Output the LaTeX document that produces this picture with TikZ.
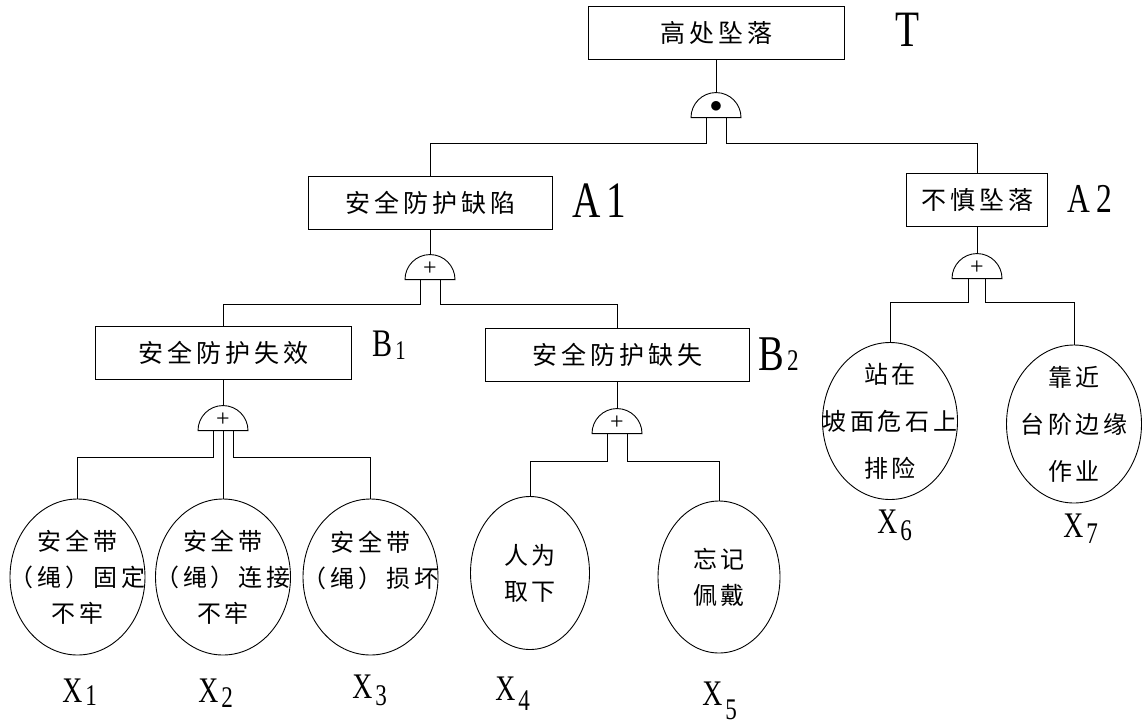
\documentclass[tikz,border=0pt]{standalone}
\usepackage{fontspec}
\setmainfont{Liberation Serif}
\newfontfamily\cjk[LetterSpace=16]{Noto Sans CJK SC}
\newfontfamily\labfont[FakeStretch=0.77]{Liberation Serif}
\usetikzlibrary{shapes.geometric}

\newcommand\tagsub[4]{{\fontsize{#4}{#4}\selectfont #1}\kern3pt\raisebox{-#3pt}{\fontsize{30}{30}\selectfont #2}}

\tikzset{
  event/.style={rectangle, draw, minimum height=53pt, inner sep=0pt,
                font=\cjk\fontsize{25}{30}\selectfont},
  basic/.style={ellipse, draw, minimum width=135pt, minimum height=156pt,
                inner sep=0pt},
  basictext/.style={align=center, inner sep=0pt,
                font=\cjk\fontsize{24}{36}\selectfont},
  widetext/.style={basictext, font=\cjk\fontsize{24}{47}\selectfont},
  orgate/.style={semicircle, draw, inner sep=0pt, minimum width=50pt,
                anchor=chord center, font=\fontsize{24}{24}\selectfont},
  tag/.style={anchor=base west, inner sep=0pt, font=\labfont}
}

\begin{document}
\begin{tikzpicture}[x=1pt, y=-1pt, line width=0.9pt]
\useasboundingbox (0,0) rectangle (1142,726);

\node[event, minimum width=256pt] (T)  at (716,32.5) {高处坠落};
\node[event, minimum width=244pt] (A1) at (430,203)  {安全防护缺陷};
\node[event, minimum width=141pt] (A2) at (977,200)  {不慎坠落};
\node[event, minimum width=256pt] (B1) at (223,352.5) {安全防护失效};
\node[event, minimum width=264pt] (B2) at (617,355)  {安全防护缺失};

\node[orgate] (gT)  at (716,118) {\fontsize{30}{30}\selectfont$\bullet$};
\node[orgate] (gA1) at (430,280) {+};
\node[orgate] (gA2) at (977,279) {+};
\node[orgate] (gB1) at (223,431) {+};
\node[orgate] (gB2) at (617,434) {+};

\node[basic, label={[basictext]center:{安全带\\（绳）固定\\不牢}}] (X1) at (77.5,577) {};
\node[basic, label={[basictext]center:{安全带\\（绳）连接\\不牢}}] (X2) at (223,577) {};
\node[basic, label={[basictext]center:{安全带\\（绳）损坏\\\mbox{}}}] (X3) at (370.5,577) {};
\node[basic, minimum width=119pt, minimum height=153pt,
      label={[basictext]center:{人为\\取下}}] (X4) at (530,573) {};
\node[basic, minimum width=122pt, minimum height=152pt,
      label={[basictext]center:{忘记\\佩戴}}] (X5) at (719,577) {};
\node[basic, minimum height=157pt,
      label={[widetext]center:{站在\\坡面危石上\\排险}}] (X6) at (890,421) {};
\node[basic, minimum height=158pt,
      label={[widetext]center:{靠近\\台阶边缘\\作业}}] (X7) at (1074,424) {};

\draw (T) -- (gT.apex);
\draw (A1) -- (gA1.apex);
\draw (A2) -- (gA2.apex);
\draw (B1) -- (gB1.apex);
\draw (B2) -- (gB2.apex);

\draw ([xshift=-10pt]gT.chord center) -- ++(0,25) -| (A1.north);
\draw ([xshift=10pt]gT.chord center) -- ++(0,25) -| (A2.north);
\draw ([xshift=-10pt]gA1.chord center) -- ++(0,24) -| (B1.north);
\draw ([xshift=10pt]gA1.chord center) -- ++(0,24) -| (B2.north);
\draw ([xshift=-10pt]gB1.chord center) -- ++(0,26) -| (X1.north);
\draw (gB1.chord center) -- (X2.north);
\draw ([xshift=10pt]gB1.chord center) -- ++(0,26) -| (X3.north);
\draw ([xshift=-10pt]gB2.chord center) -- ++(0,27) -| (X4.north);
\draw ([xshift=10pt]gB2.chord center) -- ++(0,27) -| (X5.north);
\draw ([xshift=-8.5pt]gA2.chord center) -- ++(0,23) -| (X6.north);
\draw ([xshift=8.5pt]gA2.chord center) -- ++(0,23) -| (X7.north);

\node[tag, font=\labfont\fontsize{51}{51}\selectfont] (tT) at (895,46) {T};
\node[tag, font=\labfont\fontsize{51}{51}\selectfont] (tA1) at (572,217) {A\kern6pt 1};
\node[tag, font=\labfont\fontsize{41}{41}\selectfont] (tA2) at (1067,212) {A\kern6pt 2};
\node[tag] (tB1) at (372,356) {\tagsub{B}{\fontsize{27}{27}\selectfont 1}{3}{39}};
\node[tag] (tB2) at (758,370) {\tagsub{B}{2}{0}{50}};
\node[tag] (tX1) at (62,702)  {\tagsub{X}{1}{3}{36}};
\node[tag] (tX2) at (198,702) {\tagsub{X}{2}{5}{36}};
\node[tag] (tX3) at (352,698) {\tagsub{X}{3}{7}{36}};
\node[tag] (tX4) at (495,700) {\tagsub{X}{4}{10}{36}};
\node[tag] (tX5) at (702,705) {\tagsub{X}{5}{14}{36}};
\node[tag] (tX6) at (877,533) {\tagsub{X}{6}{7}{36}};
\node[tag] (tX7) at (1063,537) {\tagsub{X}{7}{6}{36}};
\end{tikzpicture}
\end{document}
